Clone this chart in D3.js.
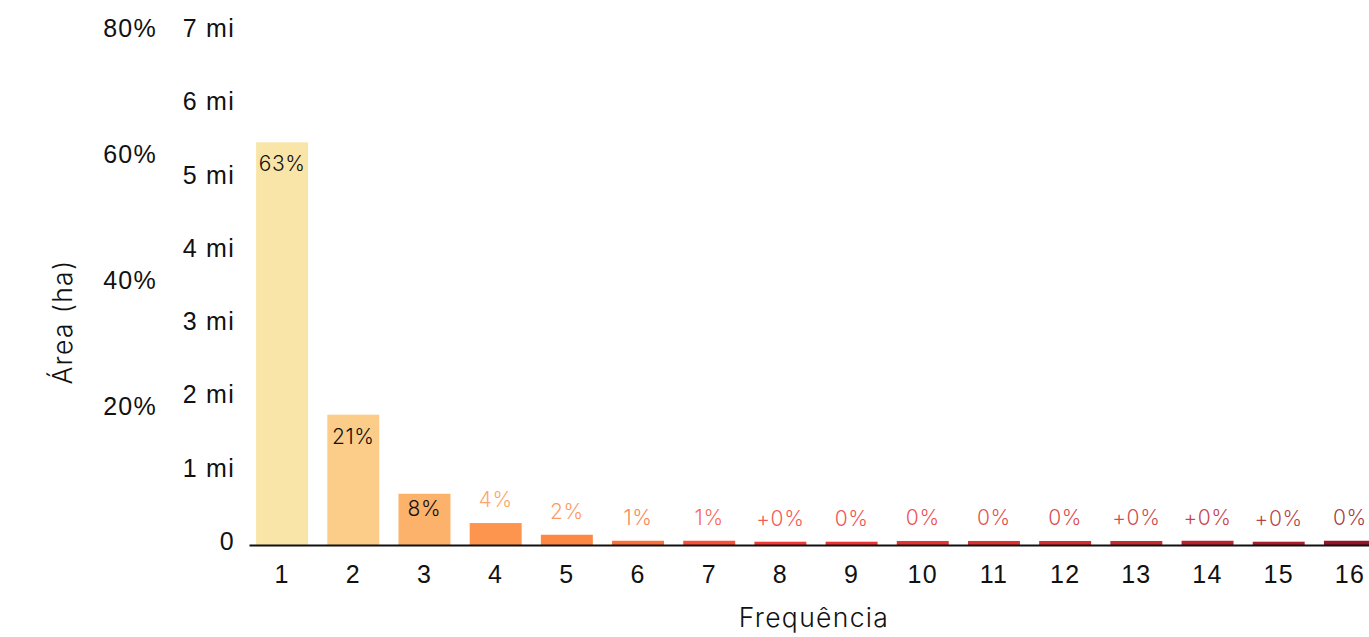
<!DOCTYPE html>
<html>
<head>
<meta charset="utf-8">
<script src="https://cdn.jsdelivr.net/npm/d3@7"></script>
<style>
  html, body { margin: 0; padding: 0; background: #fff; overflow: hidden; }
  svg { display: block; font-family: "Inter", "Open Sans", sans-serif; font-weight: 300; }
  .tick text { fill: #111; }
</style>
</head>
<body>
<svg id="chart" width="1369" height="637"></svg>
<script>
// ---- data ----
const categories = ["1","2","3","4","5","6","7","8","9","10","11","12","13","14","15","16"];
const areaMi = [5.50, 1.78, 0.70, 0.30, 0.14, 0.058, 0.058, 0.045, 0.045, 0.055, 0.055, 0.055, 0.055, 0.058, 0.045, 0.058];
const pctLabels = ["63%","21%","8%","4%","2%","1%","1%","+0%","0%","0%","0%","0%","+0%","+0%","+0%","0%"];
const barColors = ["#FAE5A8","#FBCD89","#FCB26B","#FD954F","#FE8843","#FD7238","#FB4F37","#F53A36",
                   "#EE3434","#E83333","#E03131","#D62D30","#C92A2F","#BC222D","#AC1E2B","#951628"];
const miTicks = [0,1,2,3,4,5,6,7];
const miTickLabels = ["0","1 mi","2 mi","3 mi","4 mi","5 mi","6 mi","7 mi"];
const pctTicks = [20,40,60,80];
const pctTickLabels = ["20%","40%","60%","80%"];
const xTitle = "Frequência";
const yTitle = "Área (ha)";

// ---- layout ----
const svg = d3.select("#chart");
const baseY = 545;

const x = d3.scaleBand().domain(categories).range([249, 1383]).paddingInner(0.27).paddingOuter(0.1);
const y = d3.scaleLinear().domain([0, 7]).range([baseY, 32.5]);
const yPct = d3.scaleLinear().domain([0, 80]).range([535.7, 32.5]);

// bars
const data = categories.map((c, i) => ({ c, v: areaMi[i], label: pctLabels[i], color: barColors[i] }));

svg.append("g").selectAll("rect").data(data).join("rect")
  .attr("x", d => x(d.c))
  .attr("width", x.bandwidth())
  .attr("y", d => y(d.v))
  .attr("height", d => baseY - y(d.v))
  .attr("fill", d => d.color);

// bar labels
svg.append("g").selectAll("text").data(data).join("text")
  .attr("x", d => x(d.c) + x.bandwidth() / 2)
  .attr("y", d => {
    const h = baseY - y(d.v);
    return h > 40 ? y(d.v) + Math.min(29, h * 0.43) : y(d.v) - 16;
  })
  .attr("text-anchor", "middle")
  .attr("font-size", 21)
  .attr("letter-spacing", "0.03em")
  .attr("fill", d => (baseY - y(d.v)) > 40 ? "#111" : d.color)
  .attr("fill-opacity", d => (baseY - y(d.v)) > 40 ? 1 : 0.85)
  .text(d => d.label);

// left axis (mi)
const gMi = svg.append("g").attr("transform", "translate(241,0)")
  .call(d3.axisLeft(y).tickValues(miTicks).tickFormat((d, i) => miTickLabels[i]).tickSize(0).tickPadding(6));
gMi.select(".domain").remove();
gMi.selectAll("text").attr("font-size", 25).attr("font-family", null).attr("letter-spacing", "0.05em").attr("dy", "0.17em");

// left axis (percent)
const gPct = svg.append("g").attr("transform", "translate(157,0)")
  .call(d3.axisLeft(yPct).tickValues(pctTicks).tickFormat((d, i) => pctTickLabels[i]).tickSize(0).tickPadding(0));
gPct.select(".domain").remove();
gPct.selectAll("text").attr("font-size", 25).attr("font-family", null).attr("letter-spacing", "0.05em").attr("dy", "0.17em");

// bottom axis
const gX = svg.append("g").attr("transform", `translate(0,${baseY})`)
  .call(d3.axisBottom(x).tickSize(0).tickSizeOuter(0).tickPadding(20));
gX.select(".domain").attr("stroke", "#111").attr("stroke-width", 2);
gX.selectAll("text").attr("font-size", 25).attr("font-family", null).attr("letter-spacing", "0.05em");

// titles
svg.append("text")
  .attr("x", 814).attr("y", 627)
  .attr("text-anchor", "middle")
  .attr("font-size", 26.5)
  .attr("letter-spacing", "0.05em")
  .attr("fill", "#111")
  .text(xTitle);

svg.append("text")
  .attr("transform", "translate(72,322) rotate(-90)")
  .attr("text-anchor", "middle")
  .attr("font-size", 26.5)
  .attr("letter-spacing", "0.05em")
  .attr("fill", "#111")
  .text(yTitle);
</script>
</body>
</html>
